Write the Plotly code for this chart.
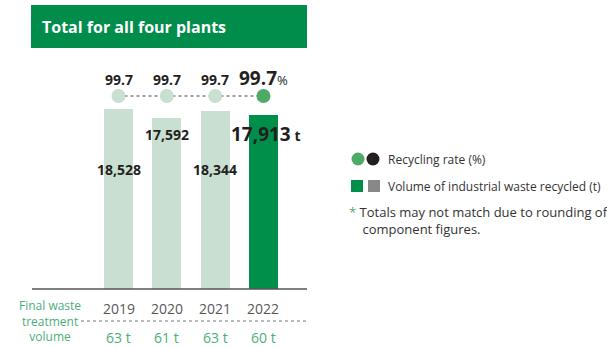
import plotly.graph_objects as go

years = ["2019", "2020", "2021", "2022"]
recycled_t = [18528, 17592, 18344, 17913]
recycling_rate = [99.7, 99.7, 99.7, 99.7]
final_waste_t = [63, 61, 63, 60]

W, H = 607, 347
def px(x): return x / W
def py(y): return 1 - y / H

LIGHT = "#c9dfd1"
DARK = "#008f4a"
CIRC_DARK = "#4eaa67"
TXT = "#231f20"
GREEN_TXT = "#4bae7b"
FONT = "Open Sans"

bar_colors = [LIGHT, LIGHT, LIGHT, DARK]
circ_colors = [LIGHT, LIGHT, LIGHT, CIRC_DARK]

fig = go.Figure()
fig.add_trace(go.Bar(x=years, y=recycled_t, marker=dict(color=bar_colors, line=dict(width=0)),
                     width=0.6, hoverinfo="skip", showlegend=False))
fig.add_trace(go.Scatter(x=years, y=recycling_rate, yaxis="y2", mode="lines+markers",
                         line=dict(color="#444444", width=1, dash="dot"),
                         marker=dict(size=14, color=circ_colors, line=dict(width=0)),
                         hoverinfo="skip", showlegend=False))

# x: category index -> pixels: idx0=118.5, spacing 48.33
sp = 48.33
x0 = 118.5
xr = [(32 - x0) / sp, (307 - x0) / sp]
dom_bottom, dom_top = 289, 48
ymax = (dom_bottom - dom_top) * 18528 / 180.0
frac = (dom_bottom - 96) / (dom_bottom - dom_top)
y2max = 99.7 / frac

fig.update_layout(
    width=W, height=H, margin=dict(l=0, r=0, t=0, b=0),
    paper_bgcolor="white", plot_bgcolor="white",
    font=dict(family=FONT, color=TXT),
    bargap=0,
    xaxis=dict(type="category", domain=[px(32), px(307)], range=xr, showticklabels=False,
               showgrid=False, zeroline=False, showline=False, ticks=""),
    yaxis=dict(domain=[py(dom_bottom), py(dom_top)], range=[0, ymax], visible=False),
    yaxis2=dict(domain=[py(dom_bottom), py(dom_top)], range=[0, y2max], overlaying="y",
                visible=False),
)

shapes = []
ann = []
# title box
shapes.append(dict(type="rect", xref="paper", yref="paper", x0=px(31), x1=px(307),
                   y0=py(48), y1=py(5), fillcolor="#008c4a", line=dict(width=0), layer="below"))
ann.append(dict(xref="paper", yref="paper", x=px(40), y=py(27), xanchor="left", yanchor="middle",
                text="<b>Total for all four plants</b>", showarrow=False,
                font=dict(size=16, color="white", family=FONT)))
# baseline
shapes.append(dict(type="line", xref="paper", yref="paper", x0=px(32), x1=px(307),
                   y0=py(289), y1=py(289), line=dict(color="#555555", width=1.5)))
# dotted line for final waste row
shapes.append(dict(type="line", xref="paper", yref="paper", x0=px(81), x1=px(307),
                   y0=py(321), y1=py(321), line=dict(color="#777777", width=1, dash="dot")))

value_label_y = [169, 134, 169, 134]
for i, yr in enumerate(years):
    if i < 3:
        ann.append(dict(x=i, xref="x", yref="paper", y=py(value_label_y[i]), yanchor="middle",
                        xanchor="center",
                        text=f"<b>{recycled_t[i]:,}</b>", showarrow=False,
                        font=dict(size=14, color=TXT)))
        ann.append(dict(x=i, xref="x", yref="paper", y=py(79), yanchor="middle",
                        xanchor="center",
                        text=f"<b>{recycling_rate[i]}</b>", showarrow=False,
                        font=dict(size=14, color=TXT)))
    else:
        ann.append(dict(x=i, xref="x", yref="paper", y=py(value_label_y[i]), yanchor="middle",
                        xanchor="center", xshift=2,
                        text=f"<b><span style='font-size:19px'>{recycled_t[i]:,}</span> t</b>",
                        showarrow=False, font=dict(size=14, color=TXT)))
        ann.append(dict(x=i, xref="x", yref="paper", y=py(78), yanchor="middle",
                        xanchor="center", xshift=0,
                        text=f"<b><span style='font-size:19px'>{recycling_rate[i]}</span></b>%",
                        showarrow=False, font=dict(size=13, color=TXT)))
    ann.append(dict(x=i, xref="x", yref="paper", y=py(308), yanchor="middle", xanchor="center",
                    text=yr, showarrow=False, font=dict(size=14, color="#595757")))
    ann.append(dict(x=i, xref="x", yref="paper", y=py(337), yanchor="middle", xanchor="center",
                    text=f"{final_waste_t[i]} t", showarrow=False,
                    font=dict(size=14, color=GREEN_TXT)))

ann.append(dict(xref="paper", yref="paper", x=px(50), y=py(321), yanchor="middle",
                xanchor="center",
                text="Final waste<br>treatment<br>volume", showarrow=False, align="center",
                font=dict(size=12, color=GREEN_TXT)))

# custom legend
for cx, col in [(358, CIRC_DARK), (373, "#231f20")]:
    shapes.append(dict(type="circle", xref="paper", yref="paper", x0=px(cx - 6.5), x1=px(cx + 6.5),
                       y0=py(159 + 6.5), y1=py(159 - 6.5), fillcolor=col, line=dict(width=0)))
for sx, col in [(351, DARK), (368, "#888888")]:
    shapes.append(dict(type="rect", xref="paper", yref="paper", x0=px(sx), x1=px(sx + 12),
                       y0=py(192), y1=py(180), fillcolor=col, line=dict(width=0)))
ann.append(dict(xref="paper", yref="paper", x=px(386), y=py(159), xanchor="left", yanchor="middle",
                text="Recycling rate (%)", showarrow=False, font=dict(size=12, color="#333333")))
ann.append(dict(xref="paper", yref="paper", x=px(386), y=py(186), xanchor="left", yanchor="middle",
                text="Volume of industrial waste recycled (t)", showarrow=False,
                font=dict(size=12, color="#333333")))
ann.append(dict(xref="paper", yref="paper", x=px(347), y=py(221), xanchor="left", yanchor="middle",
                text="<span style='color:#4bae7b'>*</span> Totals may not match due to rounding of"
                     "<br>    component figures.",
                showarrow=False, align="left", font=dict(size=13, color="#333333")))

fig.update_layout(shapes=shapes, annotations=ann)
fig.write_html("out.html")
